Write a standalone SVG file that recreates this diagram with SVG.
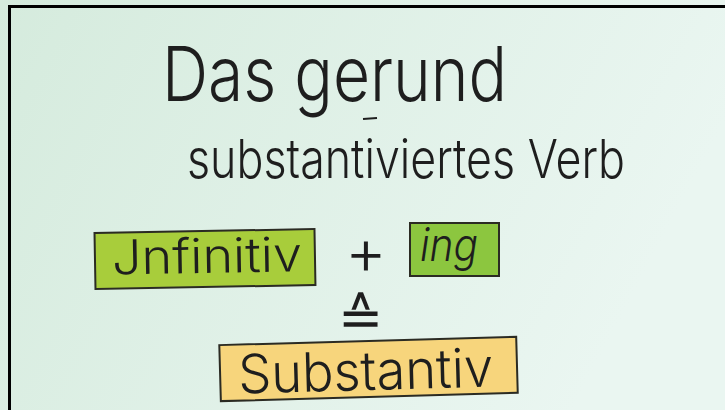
<svg xmlns="http://www.w3.org/2000/svg" width="725" height="410" viewBox="0 0 725 410">
<defs>
<linearGradient id="bg" x1="0" y1="0" x2="1" y2="0.3">
<stop offset="0" stop-color="#d5ebdd"/>
<stop offset="1" stop-color="#eaf6f1"/>
</linearGradient>
<style>
.hw{font-family:Inter,"Open Sans","Liberation Sans",sans-serif;font-weight:300;fill:#1e1e1e}
.box{stroke:#2b2b23;stroke-width:2}
</style>
</defs>
<rect width="725" height="410" fill="url(#bg)"/>
<path d="M9.5 410 V6.5 H725" fill="none" stroke="#000" stroke-width="3"/>
<g id="title">
<text class="hw" x="162" y="101" font-size="76" textLength="345" lengthAdjust="spacingAndGlyphs">Das gerund</text>
<line x1="363" y1="119" x2="377" y2="118" stroke="#1e1e1e" stroke-width="2"/>
<text class="hw" x="187" y="178" font-size="54" textLength="438" lengthAdjust="spacingAndGlyphs">substantiviertes Verb</text>
</g>
<g id="infinitiv" transform="rotate(-1 205 260)">
<rect class="box" x="95" y="231" width="220" height="56" fill="#a8cd3b"/>
<text class="hw" x="112" y="273" font-size="48" textLength="190" lengthAdjust="spacingAndGlyphs">Jnfinitiv</text>
</g>
<g id="plus">
<text class="hw" x="366" y="274" font-size="64" text-anchor="middle">+</text>
</g>
<g id="ing">
<rect class="box" x="410" y="223" width="89" height="53" fill="#8cc63f"/>
<text class="hw" x="420" y="261" font-size="46" font-style="italic" textLength="58" lengthAdjust="spacingAndGlyphs">ing</text>
</g>
<g id="entspricht">
<text class="hw" x="360" y="336" font-size="54" text-anchor="middle">≙</text>
</g>
<g id="substantiv" transform="rotate(-1.6 368 368)">
<rect class="box" x="220" y="341" width="297" height="56" fill="#f7d57c"/>
<text class="hw" x="238" y="390" font-size="54" textLength="255" lengthAdjust="spacingAndGlyphs">Substantiv</text>
</g>
<g id="connectors"/>
</svg>
